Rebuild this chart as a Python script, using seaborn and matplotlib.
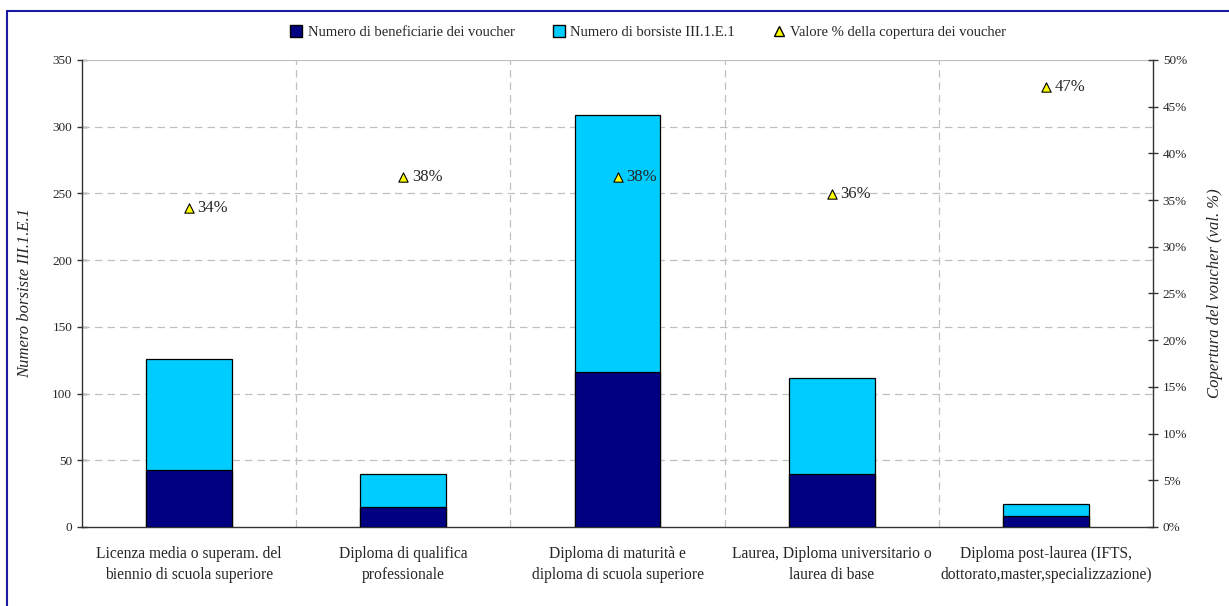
import matplotlib
matplotlib.use('Agg')
import matplotlib.pyplot as plt
from matplotlib.lines import Line2D
import pandas as pd
import seaborn as sns

# Dati
categorie = [
    'Licenza media o superam. del\nbiennio di scuola superiore',
    'Diploma di qualifica\nprofessionale',
    'Diploma di maturità e\ndiploma di scuola superiore',
    'Laurea, Diploma universitario o\nlaurea di base',
    'Diploma post-laurea (IFTS,\ndottorato,master,specializzazione)',
]
borsiste = [126, 40, 309, 112, 17]
beneficiarie = [43, 15, 116, 40, 8]
copertura = [34.1, 37.5, 37.5, 35.7, 47.1]

df = pd.DataFrame({'categoria': categorie, 'borsiste': borsiste,
                   'beneficiarie': beneficiarie, 'copertura': copertura})

sns.set_style('white')
plt.rcParams['font.family'] = ['Liberation Serif', 'DejaVu Serif']

fig = plt.figure(figsize=(12.29, 6.06), dpi=100)
ax = fig.add_axes([0.0667, 0.1304, 0.8715, 0.7706])

navy = '#000080'
cyan = '#00CCFF'

sns.barplot(data=df, x='categoria', y='borsiste', color=cyan, width=0.4, saturation=1,
            edgecolor='black', linewidth=0.9, ax=ax, zorder=2)
sns.barplot(data=df, x='categoria', y='beneficiarie', color=navy, width=0.4, saturation=1,
            edgecolor='black', linewidth=0.9, ax=ax, zorder=3)

ax.set_xlim(-0.5, len(categorie) - 0.5)
ax.set_ylim(0, 350)
ax.set_yticks(range(0, 351, 50))
ax.set_xlabel('')
ax.set_ylabel('Numero borsiste III.1.E.1', fontsize=12, style='italic', labelpad=14)

# griglia tratteggiata
for y in range(50, 350, 50):
    ax.axhline(y, color='#c0c0c0', lw=0.9, ls=(0, (6, 4)), zorder=1)
ax.axhline(350, color='#c0c0c0', lw=0.9, zorder=1)
for x in range(1, len(categorie)):
    ax.axvline(x - 0.5, color='#c0c0c0', lw=0.9, ls=(0, (6, 4)), zorder=1)

ax.set_xticks([x - 0.5 for x in range(len(categorie) + 1)], minor=False)
ax.set_xticklabels([])
ax.set_xticks(range(len(categorie)), minor=True)
ax.set_xticklabels(categorie, minor=True, fontsize=11.2, linespacing=1.35)
ax.tick_params(axis='x', which='minor', length=0, pad=14)
ax.tick_params(axis='x', which='major', direction='out', length=6, width=1, color='#333333')
ax.tick_params(axis='y', direction='inout', length=7, width=1, labelsize=9.5, color='#333333')

for s in ['top', 'right']:
    ax.spines[s].set_visible(False)
for s in ['left', 'bottom']:
    ax.spines[s].set_color('#333333')
    ax.spines[s].set_linewidth(1)

# asse secondario: copertura %
ax2 = ax.twinx()
ax2.set_ylim(0, 50)
ax2.set_yticks(range(0, 51, 5))
ax2.set_yticklabels([f'{v}%' for v in range(0, 51, 5)])
ax2.tick_params(axis='y', direction='inout', length=7, width=1, labelsize=9.5, color='#333333')
for s in ['top', 'left', 'bottom']:
    ax2.spines[s].set_visible(False)
ax2.spines['right'].set_color('#333333')
ax2.spines['right'].set_linewidth(1)
sns.scatterplot(data=df, x='categoria', y='copertura', marker='^', s=45,
                color='#FFFF00', edgecolor='black', linewidth=0.8, ax=ax2, zorder=5)
for i, v in enumerate(copertura):
    ax2.text(i + 0.04, v, f'{round(v):d}%', fontsize=12, va='center', ha='left', zorder=6)
ax2.set_xlabel('')
ax2.set_ylabel('Copertura del voucher (val. %)', fontsize=12, style='italic', labelpad=14)
ax2.set_xlim(-0.5, len(categorie) - 0.5)

# legenda
handles = [
    Line2D([], [], marker='s', ls='', markersize=8, markerfacecolor=navy, markeredgecolor='black'),
    Line2D([], [], marker='s', ls='', markersize=8, markerfacecolor=cyan, markeredgecolor='black'),
    Line2D([], [], marker='^', ls='', markersize=7, markerfacecolor='#FFFF00', markeredgecolor='black'),
]
labels = ['Numero di beneficiarie dei voucher', 'Numero di borsiste III.1.E.1',
          'Valore % della copertura dei voucher']
fig.legend(handles, labels, loc='center', bbox_to_anchor=(0.527, 0.947), ncol=3,
           frameon=False, fontsize=10.5, handletextpad=0.3, columnspacing=2.5,
           handlelength=1.0)

# cornice esterna
fig.add_artist(Line2D([7 / 1229, 7 / 1229], [0, 1 - 11 / 606], color='#1a1aa0', lw=1.5))
fig.add_artist(Line2D([7 / 1229, 1], [1 - 11 / 606, 1 - 11 / 606], color='#1a1aa0', lw=1.5))

fig.savefig('out.png', dpi=100)
